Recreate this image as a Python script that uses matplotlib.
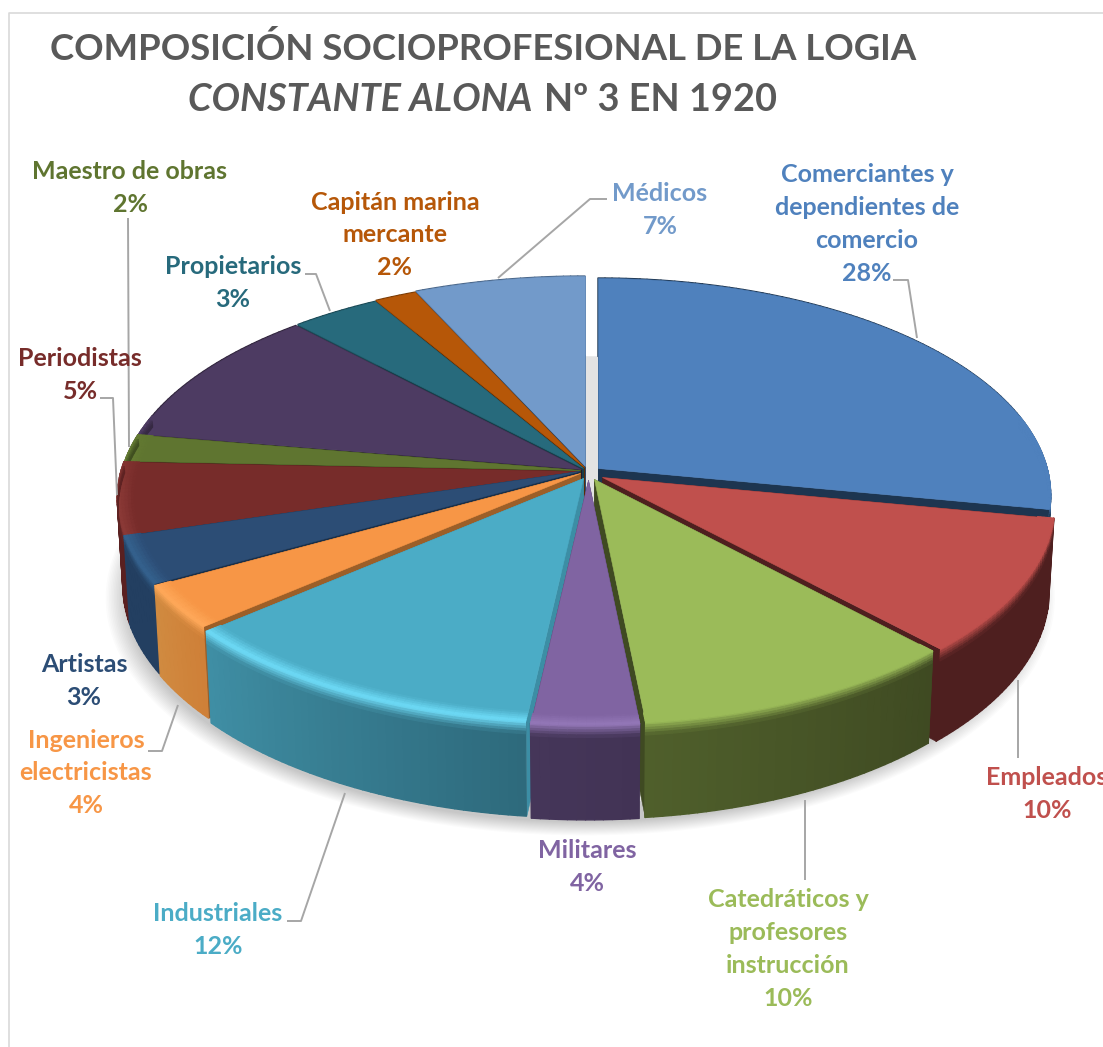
"""3D exploded pie: socio-professional make-up of the lodge, drawn with PolyCollections."""
import numpy as np
import matplotlib
matplotlib.use("Agg")
import matplotlib.pyplot as plt
from matplotlib.collections import PolyCollection
from matplotlib.colors import to_rgb

plt.rcParams["font.family"] = ["Lato", "DejaVu Sans"]

# data, clockwise from 12 o'clock
CATEGORIES = [
    "Comerciantes y\ndependientes de\ncomercio", "Empleados", "Catedráticos y\nprofesores\ninstrucción",
    "Militares", "Industriales", "Ingenieros\nelectricistas", "Artistas", "Periodistas",
    "Maestro de obras", "", "Propietarios", "Capitán marina\nmercante", "Médicos",
]
VALUES = [28, 10, 10.4, 3.35, 11.85, 3.2, 3.5, 5.4, 2, 10.4, 3.5, 1.65, 6.75]
PERCENT_LABELS = ["28%", "10%", "10%", "4%", "12%", "4%", "3%", "5%", "2%", "", "3%", "2%", "7%"]

# styles
TOP = ["#4f81bd", "#c0504d", "#9bbb59", "#8064a2", "#4bacc6", "#f79646", "#2c4d75",
       "#772c2a", "#5f7530", "#4d3b62", "#276a7c", "#b65708", "#729aca"]
WALL_R = ["#1d3550", "#4e1f1f", "#3f4a22", "#423355", "#2e6a7c", "#cf8038", "#233f61",
          "#5a2020", "#3c4a1e", "#33273f", "#1b4a56", "#7a3b05", "#4a678a"]
WALL_L = ["#1d3550", "#4e1f1f", "#4f5f2b", "#453659", "#3f8ea4", "#d08a40", "#233f61",
          "#5a2020", "#3c4a1e", "#33273f", "#1b4a56", "#7a3b05", "#4a678a"]
SIDE = ["#1d3550", "#4e1f1f", "#3f4a22", "#423355", "#3c8ea5", "#9c5f28", "#1a2f48",
        "#3f1513", "#38461c", "#201a2c", "#163f4a", "#5e2d04", "#2f4866"]
GLOW = ["#4f81bd", "#c0504d", "#9bbb59", "#9478b8", "#6fdcf8", "#ffa95a", "#35628f",
        "#8c3a37", "#6f8838", "#5a4672", "#2f7d90", "#c46010", "#80a8d8"]
OFFSETS = [(15, -3), (19, 6), (11, 8), (5, 9), (0, 7), (-3, 2), (-4, 0),
           (-4, 0), (-3, -1), (-2, -2), (0, -3), (1, -4), (2, -5)]

LABEL_POS = [(867, 224), (1047, 794), (788, 949), (587, 867), (218, 930), (86, 773), (84, 681),
             (80, 375), (130, 188), (0, 0), (233, 283), (395, 235), (660, 210)]
LEADERS = [
    [(893, 280), (908, 280), (917, 338)],
    [(1018, 680), (1018, 758)],
    [(805, 800), (805, 880)],
    [(345, 793), (301, 921), (287, 921)],
    [(178, 705), (162, 751), (148, 751)],
    [(100, 398), (113, 398), (117, 495)],
    [(128, 218), (129, 447)],
    [(305, 274), (316, 274), (330, 311)],
    [(607, 199), (590, 199), (498, 278)],
]

CX, CY = 583, 471
RX_L, RX_R, B, K, KZ, DEPTH = 458, 449, 214, 0.1264, 0.012, 87


def project(theta, r=1.0, z=0.0, off=(0, 0)):
    u, v = r * np.sin(theta), r * np.cos(theta)
    w = 1 + K * v + KZ * z
    rx = np.where(u < 0, RX_L, RX_R)
    return np.column_stack([CX + off[0] + rx * u / w,
                            CY + off[1] + (-B * v + DEPTH * z) / w])


def mix(a, b, t):
    a, b = np.array(to_rgb(a)), np.array(to_rgb(b))
    return tuple(a + (b - a) * t)


def add_polys(ax, polys, colors, zorder, lw=0.4):
    ax.add_collection(PolyCollection(polys, facecolors=colors, edgecolors=colors,
                                     linewidths=lw, zorder=zorder))


fig = plt.figure(figsize=(11.03, 10.47), dpi=100)
ax = fig.add_axes([0, 0, 1, 1])
ax.set_xlim(0, 1103)
ax.set_ylim(1047, 0)
ax.axis("off")

# chart frame
ax.plot([9, 9, 1103], [1047, 13, 13], color="#d9d9d9", lw=1.2, zorder=0)

# soft floor shadow
full = np.radians(np.arange(0, 361, 2.0))
for i in range(14):
    poly = project(full, r=1.0 + 0.05 - i * 0.0035, z=1.0, off=(2, 10))
    ax.fill(poly[:, 0], poly[:, 1], color="#000000", alpha=0.014, lw=0, zorder=1)
base = project(full, r=0.99, z=1.0, off=(2, -5))
ax.fill(base[:, 0], base[:, 1], color="#e3e3e3", lw=0, zorder=1)

edges = np.radians(np.cumsum([0] + VALUES) / sum(VALUES) * 360)
mids = (edges[:-1] + edges[1:]) / 2
order = np.argsort(-np.cos(mids))

for rank, i in enumerate(order):
    t0, t1 = edges[i], edges[i + 1]
    off = OFFSETS[i]
    zo = 2 + rank
    arc = np.linspace(t0, t1, max(3, int(np.degrees(t1 - t0)) + 1))

    # radial cut faces
    for t in (t0, t1):
        ends = np.array([t])
        side = np.vstack([project(ends, 0, 0, off), project(ends, 1, 0, off),
                          project(ends, 1, 1, off), project(ends, 0, 1, off)])
        add_polys(ax, [side], [SIDE[i]], zo)

    # outer wall, strip by strip
    polys, colors = [], []
    for j in range(len(arc) - 1):
        pair = arc[j:j + 2]
        polys.append(np.vstack([project(pair, 1, 0, off), project(pair[::-1], 1, 1, off)]))
        colors.append(mix(WALL_R[i], WALL_L[i], j / max(1, len(arc) - 2)))
    add_polys(ax, polys, colors, zo, lw=1.0)

    # top face
    top = np.vstack([project(np.array([t0]), 0, 0, off), project(arc, 1, 0, off)])
    add_polys(ax, [top], [TOP[i]], zo)

    # rim bevel, only toward the viewer
    polys, colors = [], []
    radii = np.linspace(0.965, 1.0, 6)
    depths = np.linspace(0, 0.13, 6)
    for j in range(len(arc) - 1):
        pair = arc[j:j + 2]
        weight = np.clip((0.25 - np.cos(pair.mean())) / 0.35, 0, 1)
        if weight <= 0:
            continue
        for k in range(5):
            polys.append(np.vstack([project(pair, radii[k], 0, off), project(pair[::-1], radii[k + 1], 0, off)]))
            colors.append(mix(TOP[i], mix(TOP[i], GLOW[i], weight), (k + 0.5) / 5))
            polys.append(np.vstack([project(pair, 1, depths[k], off), project(pair[::-1], 1, depths[k + 1], off)]))
            wall = mix(WALL_R[i], WALL_L[i], j / max(1, len(arc) - 2))
            colors.append(mix(mix(TOP[i], GLOW[i], weight), wall, (k + 0.5) / 5))
    if polys:
        add_polys(ax, polys, colors, zo, lw=0.8)

# leader lines
for leader in LEADERS:
    xs, ys = zip(*leader)
    ax.plot(xs, ys, color="#a6a6a6", lw=1.4, solid_capstyle="butt", zorder=40)

# data labels
for name, pct, pos, color in zip(CATEGORIES, PERCENT_LABELS, LABEL_POS, TOP):
    if not name:
        continue
    ax.text(pos[0], pos[1], name + "\n" + pct, color=color, fontsize=18, fontweight="bold",
            ha="center", va="center", linespacing=1.52, zorder=50)

# title
ax.text(50, 60, "COMPOSICIÓN SOCIOPROFESIONAL DE LA LOGIA", color="#595959", fontsize=26.3,
        fontweight="bold", ha="left", va="baseline")
ax.text(188, 111, "CONSTANTE ALONA", color="#595959", fontsize=27.3, fontweight="bold",
        fontstyle="italic", ha="left", va="baseline")
ax.text(544, 111, "Nº 3 EN 1920", color="#595959", fontsize=27.3, fontweight="bold",
        ha="left", va="baseline")

fig.savefig("out.png", dpi=100)
